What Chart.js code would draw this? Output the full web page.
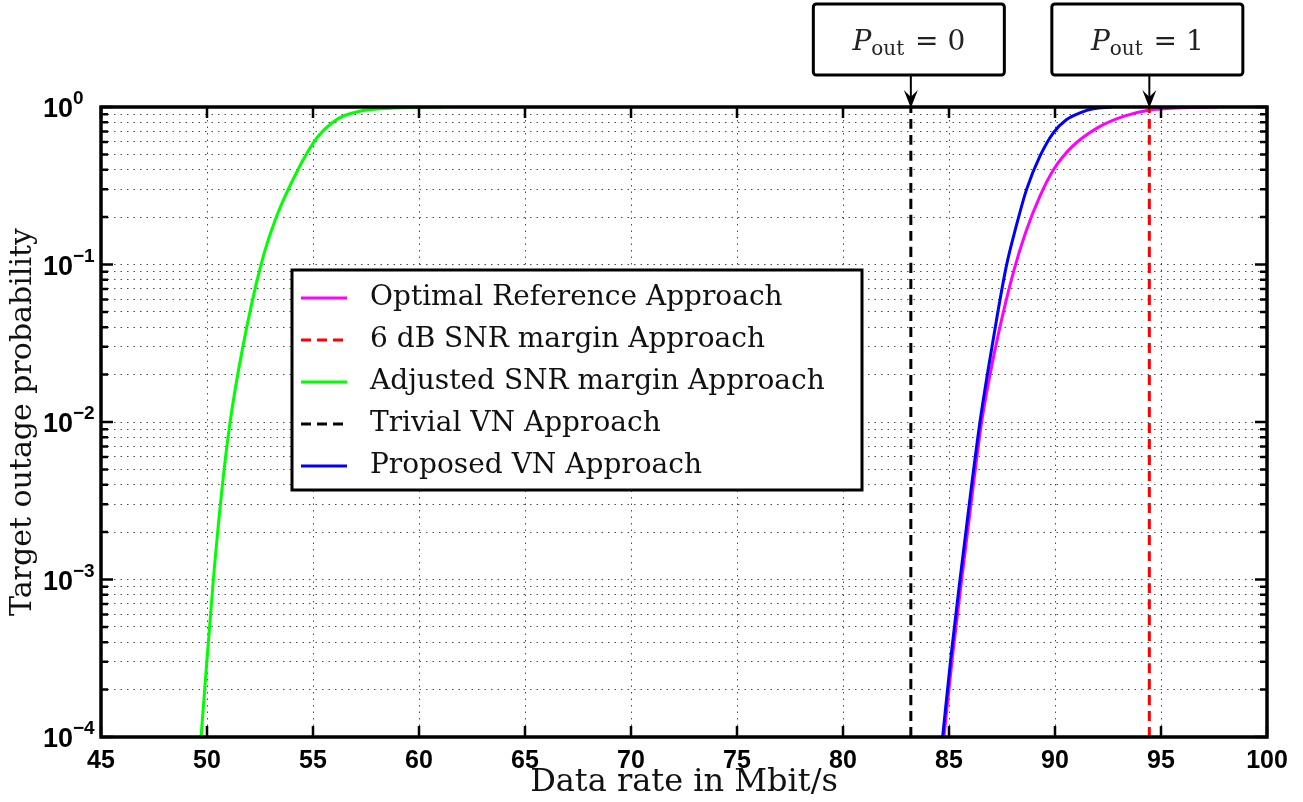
<!DOCTYPE html>
<html>
<head>
<meta charset="utf-8">
<title>Target outage probability vs data rate</title>
<script src="https://cdn.jsdelivr.net/npm/chart.js@4.4.1/dist/chart.umd.min.js"></script>
<style>
  html, body { margin: 0; padding: 0; background: #fff; }
  canvas { display: block; }
</style>
</head>
<body>
<canvas id="outageChart" width="1303" height="802"></canvas>
<script>
// Outage probability curves (data rate in Mbit/s -> probability)
const optimalX = [84.76, 85.18, 85.60, 86.14, 86.54, 86.86, 87.34, 88.03, 88.61, 89.28, 89.93, 90.81, 92.02, 93.26, 94.40, 96.00, 97.70];
const optimalY = [1e-4, 3.4e-4, 1e-3, 3.9e-3, 1e-2, 0.0177, 0.0368, 0.0886, 0.159, 0.27, 0.40, 0.56, 0.74, 0.875, 0.955, 0.99, 1.0];

const adjustedX = [49.72, 49.89, 50.30, 50.72, 51.09, 51.69, 52.55, 53.27, 54.29, 55.01, 55.45, 56.25, 57.20, 58.20, 59.90, 61.10];
const adjustedY = [1e-4, 2e-4, 1e-3, 3.9e-3, 1e-2, 0.03, 0.1, 0.2, 0.4, 0.59, 0.7, 0.853, 0.94, 0.974, 0.995, 1.0];

const proposedX = [84.70, 85.11, 85.52, 86.06, 86.46, 86.82, 87.27, 87.70, 88.17, 88.66, 89.29, 89.92, 90.55, 91.18, 91.80, 92.67];
const proposedY = [1e-4, 3.4e-4, 1e-3, 3.9e-3, 1e-2, 0.0205, 0.047, 0.097, 0.175, 0.30, 0.487, 0.686, 0.833, 0.918, 0.974, 1.0];

// Fixed-rate approaches are vertical lines over the whole probability range
const trivialRate = 83.2;
const marginRate = 94.45;
const fullRange = [1e-4, 1];

// Axis ticks
const xTickValues = [45, 50, 55, 60, 65, 70, 75, 80, 85, 90, 95, 100];
const yDecades = [1, 1e-1, 1e-2, 1e-3, 1e-4];
const yExponents = ['0', '\u22121', '\u22122', '\u22123', '\u22124'];

// Boxed notes above the plot
const noteRates = [trivialRate, marginRate];
const noteValues = ['0', '1'];

function toPoints(xs, ys) {
    return xs.map((x, i) => ({ x: x, y: ys[i] }));
}

// grid lines at 1..9 x 10^k
const yGridValues = [];
yDecades.slice(1).forEach(d => {
    for (let m = 1; m <= 9; m++) yGridValues.push(m * d);
});
yGridValues.push(1);

function isDecade(v) {
    const l = Math.log10(v);
    return Math.abs(l - Math.round(l)) < 1e-9;
}

const serif = '"DejaVu Serif", serif';
const sans = '"Liberation Sans", Arial, sans-serif';

// frame and inward tick marks
const framePlugin = {
    id: 'frame',
    afterDatasetsDraw(chart) {
        const { ctx, chartArea: { left, top, right, bottom }, scales: { x, y } } = chart;
        ctx.save();
        ctx.strokeStyle = '#000';
        ctx.lineWidth = 2.5;
        ctx.beginPath();
        x.ticks.forEach(t => {
            const px = x.getPixelForValue(t.value);
            ctx.moveTo(px, bottom); ctx.lineTo(px, bottom - 11);
            ctx.moveTo(px, top); ctx.lineTo(px, top + 11);
        });
        y.ticks.forEach(t => {
            const py = y.getPixelForValue(t.value);
            const len = isDecade(t.value) ? 12 : 7;
            ctx.moveTo(left, py); ctx.lineTo(left + len, py);
            ctx.moveTo(right, py); ctx.lineTo(right - len, py);
        });
        ctx.stroke();
        ctx.lineWidth = 3.5;
        ctx.strokeRect(left, top, right - left, bottom - top);
        ctx.restore();
    },
    afterDraw(chart) {
        // 10^k labels on the y axis
        const { ctx, scales: { y } } = chart;
        ctx.save();
        ctx.fillStyle = '#000';
        yDecades.forEach((d, i) => {
            const py = y.getPixelForValue(d);
            ctx.font = 'bold 27px ' + sans;
            ctx.textAlign = 'right';
            ctx.textBaseline = 'alphabetic';
            ctx.fillText('10', 73, py + 10);
            ctx.font = 'bold 19px ' + sans;
            ctx.textAlign = 'left';
            ctx.fillText(yExponents[i], 73, py - 3);
        });
        ctx.restore();
    }
};

// legend box inside the plot
const legendPlugin = {
    id: 'boxLegend',
    afterDraw(chart) {
        const { ctx } = chart;
        const boxLeft = 292, boxTop = 270, boxW = 570, boxH = 220;
        ctx.save();
        ctx.fillStyle = '#fff';
        ctx.fillRect(boxLeft, boxTop, boxW, boxH);
        ctx.strokeStyle = '#000';
        ctx.lineWidth = 3;
        ctx.strokeRect(boxLeft, boxTop, boxW, boxH);
        ctx.font = '28px ' + serif;
        ctx.textBaseline = 'middle';
        ctx.textAlign = 'left';
        chart.data.datasets.forEach((ds, i) => {
            const rowY = 298 + i * 42;
            ctx.strokeStyle = ds.borderColor;
            ctx.lineWidth = 3;
            ctx.setLineDash(ds.borderDash || []);
            ctx.beginPath();
            ctx.moveTo(301, rowY);
            ctx.lineTo(347, rowY);
            ctx.stroke();
            ctx.setLineDash([]);
            ctx.fillStyle = '#111';
            ctx.fillText(ds.label, 370, rowY);
        });
        ctx.restore();
    }
};

// boxed P_out notes with arrows down to the top edge
const notePlugin = {
    id: 'notes',
    afterDraw(chart) {
        const { ctx, chartArea: { top }, scales: { x } } = chart;
        ctx.save();
        noteRates.forEach((rate, i) => {
            const ax = x.getPixelForValue(rate);
            const bw = 191, bh = 71, by = 4;
            const bx = ax - 2 - bw / 2;
            ctx.fillStyle = '#fff';
            ctx.strokeStyle = '#000';
            ctx.lineWidth = 3;
            ctx.beginPath();
            ctx.roundRect(bx, by, bw, bh, 3);
            ctx.fill();
            ctx.stroke();

            // P_out = value
            const main = '28px ' + serif;
            const italic = 'italic 28px ' + serif;
            const sub = '20px ' + serif;
            const tail = ' = ' + noteValues[i];
            ctx.font = italic; const wP = ctx.measureText('P').width;
            ctx.font = sub; const wS = ctx.measureText('out').width;
            ctx.font = main; const wT = ctx.measureText(tail).width;
            let tx = bx + bw / 2 - (wP + wS + 2 + wT) / 2;
            const base = by + bh / 2 + 10;
            ctx.fillStyle = '#222';
            ctx.textBaseline = 'alphabetic';
            ctx.textAlign = 'left';
            ctx.font = italic; ctx.fillText('P', tx, base); tx += wP;
            ctx.font = sub; ctx.fillText('out', tx, base + 5); tx += wS + 2;
            ctx.font = main; ctx.fillText(tail, tx, base);

            // arrow
            ctx.strokeStyle = '#000';
            ctx.lineWidth = 2;
            ctx.beginPath();
            ctx.moveTo(ax, by + bh);
            ctx.lineTo(ax, top - 8);
            ctx.stroke();
            ctx.fillStyle = '#000';
            ctx.beginPath();
            ctx.moveTo(ax, top + 1);
            ctx.lineTo(ax - 7, top - 17);
            ctx.lineTo(ax, top - 10);
            ctx.lineTo(ax + 7, top - 17);
            ctx.closePath();
            ctx.fill();
        });
        ctx.restore();
    }
};

const lineStyle = { showLine: true, pointRadius: 0, borderWidth: 3, fill: false, cubicInterpolationMode: 'monotone' };

const ctx = document.getElementById('outageChart').getContext('2d');
new Chart(ctx, {
    type: 'scatter',
    data: {
        datasets: [
            Object.assign({ label: 'Optimal Reference Approach', data: toPoints(optimalX, optimalY), borderColor: '#ff00ff', order: 2 }, lineStyle),
            Object.assign({ label: '6 dB SNR margin Approach', data: toPoints([marginRate, marginRate], fullRange), borderColor: '#ff0000', borderDash: [10, 6], order: 1 }, lineStyle),
            Object.assign({ label: 'Adjusted SNR margin Approach', data: toPoints(adjustedX, adjustedY), borderColor: '#00ff00', order: 4 }, lineStyle),
            Object.assign({ label: 'Trivial VN Approach', data: toPoints([trivialRate, trivialRate], fullRange), borderColor: '#000000', borderDash: [10, 6], order: 3 }, lineStyle),
            Object.assign({ label: 'Proposed VN Approach', data: toPoints(proposedX, proposedY), borderColor: '#0000ff', order: 0 }, lineStyle)
        ]
    },
    options: {
        responsive: false,
        animation: false,
        layout: { padding: { top: 107, right: 36, left: 0, bottom: 0 } },
        plugins: {
            legend: { display: false },
            tooltip: { enabled: false }
        },
        scales: {
            x: {
                type: 'linear',
                min: 45,
                max: 100,
                afterBuildTicks(scale) { scale.ticks = xTickValues.map(v => ({ value: v })); },
                ticks: { color: '#000', font: { family: sans, weight: 'bold', size: 25 }, padding: 9, maxRotation: 0 },
                grid: { color: 'rgba(0,0,0,0.7)', lineWidth: 1, drawTicks: false },
                border: { display: false, dash: [1.5, 5] },
                title: { display: true, text: 'Data rate in Mbit/s', color: '#111', font: { family: serif, size: 32 }, padding: { top: 0, bottom: 0 } },
                afterFit(scale) { scale.height = 65; }
            },
            y: {
                type: 'logarithmic',
                min: 1e-4,
                max: 1,
                afterBuildTicks(scale) { scale.ticks = yGridValues.map(v => ({ value: v })); },
                ticks: { display: false },
                grid: { color: 'rgba(0,0,0,0.7)', lineWidth: 1, drawTicks: false },
                border: { display: false, dash: [1.5, 5] },
                title: { display: true, text: 'Target outage probability', color: '#111', font: { family: serif, size: 30 }, padding: { top: 5, bottom: 0 } },
                afterFit(scale) { scale.width = 101; }
            }
        }
    },
    plugins: [framePlugin, legendPlugin, notePlugin]
});
</script>
</body>
</html>
